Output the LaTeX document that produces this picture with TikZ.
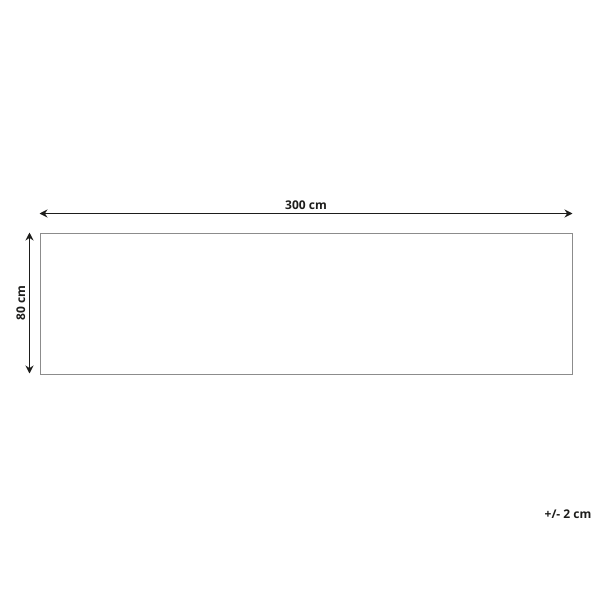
\documentclass[tikz,border=0pt]{standalone}
\usepackage{fontspec}
\setmainfont{Open Sans}
\usepackage{tikz}
\usetikzlibrary{positioning,arrows.meta,calc}
\definecolor{colorline} {RGB}{ 29, 29, 27}
\definecolor{colorrug}  {RGB}{140,140,140}

\begin{document}
\begin{tikzpicture}[
    x=1pt, y=-1pt,
    rug/.style={draw=colorrug,line width=1pt,minimum width=532pt,minimum height=141pt,inner sep=0pt},
    size/.style={draw=colorline,line width=1.8pt,{Stealth[length=8pt,width=8pt]}-{Stealth[length=8pt,width=8pt]}},
    label/.style={text=colorline,font={\fontsize{12}{14}\selectfont\bfseries}}
]
    \useasboundingbox (0,0) rectangle (600,600);

    % Rug
    \node[rug] (rug) at (306,303.5) {};

    % Width
    \coordinate (wleft)  at ($(rug.north west)+(0,-19)$);
    \coordinate (wright) at ($(rug.north east)+(0,-19)$);
    \draw[size] (wleft) to node[midway,above,label] {300 cm} (wright);

    % Height
    \coordinate (htop)    at ($(rug.north west)+(-10,0)$);
    \coordinate (hbottom) at ($(rug.south west)+(-10,-1)$);
    \draw[size] (htop) to node[midway,above,label,rotate=90] {80 cm} (hbottom);

    % Tolerance
    \node[label] (tol) at (568,514) {+/- 2 cm};

\end{tikzpicture}
\end{document}
